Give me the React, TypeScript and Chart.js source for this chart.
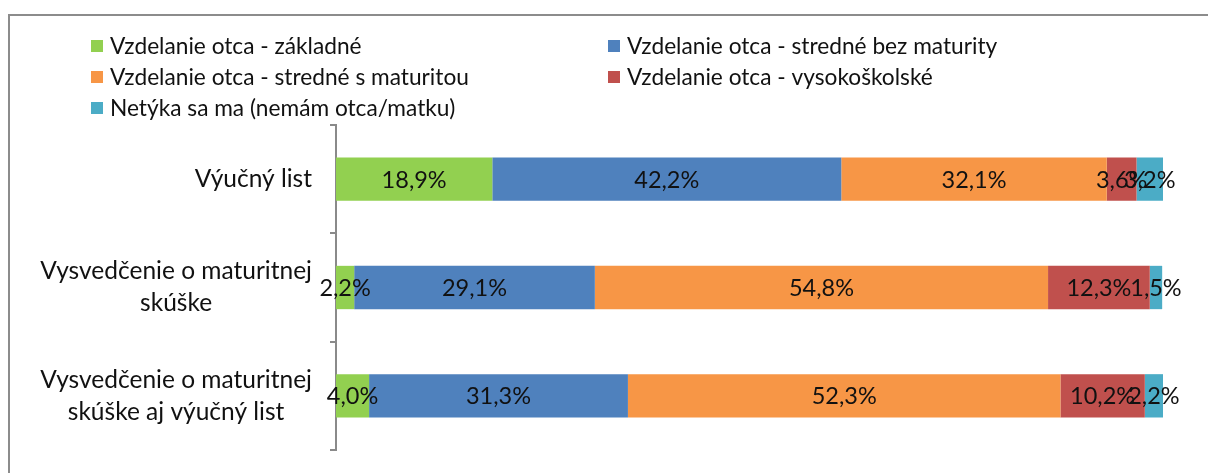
import React, { useEffect, useRef } from 'react';
import { Chart, registerables } from 'chart.js';

Chart.register(...registerables);

// ---- data ----
const categories: string[][] = [
  ['Výučný list'],
  ['Vysvedčenie o maturitnej', 'skúške'],
  ['Vysvedčenie o maturitnej', 'skúške aj výučný list'],
];
const seriesNames = [
  'Vzdelanie otca - základné',
  'Vzdelanie otca - stredné bez maturity',
  'Vzdelanie otca - stredné s maturitou',
  'Vzdelanie otca - vysokoškolské',
  'Netýka sa ma (nemám otca/matku)',
];
const zakladne = [18.9, 2.2, 4.0];
const stredneBezMaturity = [42.2, 29.1, 31.3];
const stredneSMaturitou = [32.1, 54.8, 52.3];
const vysokoskolske = [3.6, 12.3, 10.2];
const netyka = [3.2, 1.5, 2.2];
const seriesValues = [zakladne, stredneBezMaturity, stredneSMaturitou, vysokoskolske, netyka];
const seriesColors = ['#92D050', '#4F81BD', '#F79646', '#C0504D', '#4BACC6'];

// ---- style ----
const FONT = 'Lato, "Open Sans", sans-serif';
const LEGEND_SIZE = 22.7;
const AXIS_SIZE = 24.5;
const LABEL_SIZE = 23.5;
const TEXT_COLOR = '#111111';
const AXIS_COLOR = '#8a8a8a';

const fmt = (v: number) => v.toFixed(1).replace('.', ',') + '%';

const framePlugin = {
  id: 'frame',
  beforeDraw(chart: any) {
    const ctx = chart.ctx;
    ctx.save();
    ctx.fillStyle = '#ffffff';
    ctx.fillRect(0, 0, chart.width, chart.height);
    ctx.strokeStyle = '#8c8c8c';
    ctx.lineWidth = 2;
    ctx.strokeRect(9, 15, chart.width + 50, chart.height + 50);
    ctx.restore();
  },
};

const legendPlugin = {
  id: 'customLegend',
  afterDraw(chart: any) {
    const ctx = chart.ctx;
    ctx.save();
    ctx.font = `${LEGEND_SIZE}px ${FONT}`;
    ctx.textBaseline = 'middle';
    ctx.textAlign = 'left';
    const colX = [91, 608];
    const rowY = [46, 77, 108];
    seriesNames.forEach((name, i) => {
      const x = colX[i % 2];
      const y = rowY[Math.floor(i / 2)];
      ctx.fillStyle = seriesColors[i];
      ctx.fillRect(x, y - 6, 12, 12);
      ctx.fillStyle = TEXT_COLOR;
      ctx.fillText(name, x + 19, y + 1);
    });
    ctx.restore();
  },
};

const yLabelPlugin = {
  id: 'yLabels',
  afterDraw(chart: any) {
    const ctx = chart.ctx;
    const yScale = chart.scales.y;
    ctx.save();
    ctx.font = `${AXIS_SIZE}px ${FONT}`;
    ctx.textBaseline = 'middle';
    ctx.textAlign = 'center';
    ctx.fillStyle = TEXT_COLOR;
    const right = yScale.right - 24;
    const lh = 32;
    categories.forEach((lines, i) => {
      const cy = yScale.getPixelForValue(i);
      const maxW = Math.max(...lines.map((l) => ctx.measureText(l).width));
      const cx = right - maxW / 2;
      lines.forEach((l, j) => {
        ctx.fillText(l, cx, cy + (j - (lines.length - 1) / 2) * lh);
      });
    });
    ctx.restore();
  },
};

const dataLabelPlugin = {
  id: 'dataLabels',
  afterDatasetsDraw(chart: any) {
    const ctx = chart.ctx;
    ctx.save();
    ctx.font = `${LABEL_SIZE}px ${FONT}`;
    ctx.textBaseline = 'middle';
    ctx.textAlign = 'center';
    ctx.fillStyle = TEXT_COLOR;
    chart.data.datasets.forEach((ds: any, di: number) => {
      const meta = chart.getDatasetMeta(di);
      meta.data.forEach((el: any, i: number) => {
        const cx = (el.x + el.base) / 2;
        ctx.fillText(fmt(ds.data[i]), cx, el.y + 1);
      });
    });
    ctx.restore();
  },
};

export default function App() {
  const canvasRef = useRef<HTMLCanvasElement | null>(null);

  useEffect(() => {
    if (!canvasRef.current) return;
    const chart = new Chart(canvasRef.current, {
      type: 'bar',
      data: {
        labels: categories,
        datasets: seriesNames.map((name, i) => ({
          label: name,
          data: seriesValues[i],
          backgroundColor: seriesColors[i],
          borderWidth: 0,
          barPercentage: 1,
          categoryPercentage: 0.4,
        })),
      },
      options: {
        indexAxis: 'y',
        animation: false,
        responsive: false,
        maintainAspectRatio: false,
        layout: { padding: { left: 0, right: 45, top: 125, bottom: 23 } },
        plugins: {
          legend: { display: false },
          tooltip: { enabled: false },
        },
        scales: {
          x: {
            stacked: true,
            min: 0,
            max: 100,
            display: false,
          },
          y: {
            stacked: true,
            ticks: { display: false },
            grid: {
              display: true,
              drawOnChartArea: false,
              drawTicks: true,
              tickLength: 6,
              color: AXIS_COLOR,
              lineWidth: 2,
              offset: true,
            },
            border: { display: true, color: AXIS_COLOR, width: 2 },
            afterFit: (scale: any) => {
              scale.width = 336;
            },
          },
        },
      },
      plugins: [framePlugin, dataLabelPlugin, yLabelPlugin, legendPlugin],
    });
    if ((document as any).fonts) {
      (document as any).fonts.load(`${LEGEND_SIZE}px Lato`).then(() => chart.draw()).catch(() => {});
    }
    return () => chart.destroy();
  }, []);

  return (
    <div style={{ position: 'absolute', left: 0, top: 0, width: 1208, height: 473, overflow: 'hidden' }}>
      <canvas ref={canvasRef} width={1208} height={473} style={{ display: 'block', width: 1208, height: 473 }} />
    </div>
  );
}
